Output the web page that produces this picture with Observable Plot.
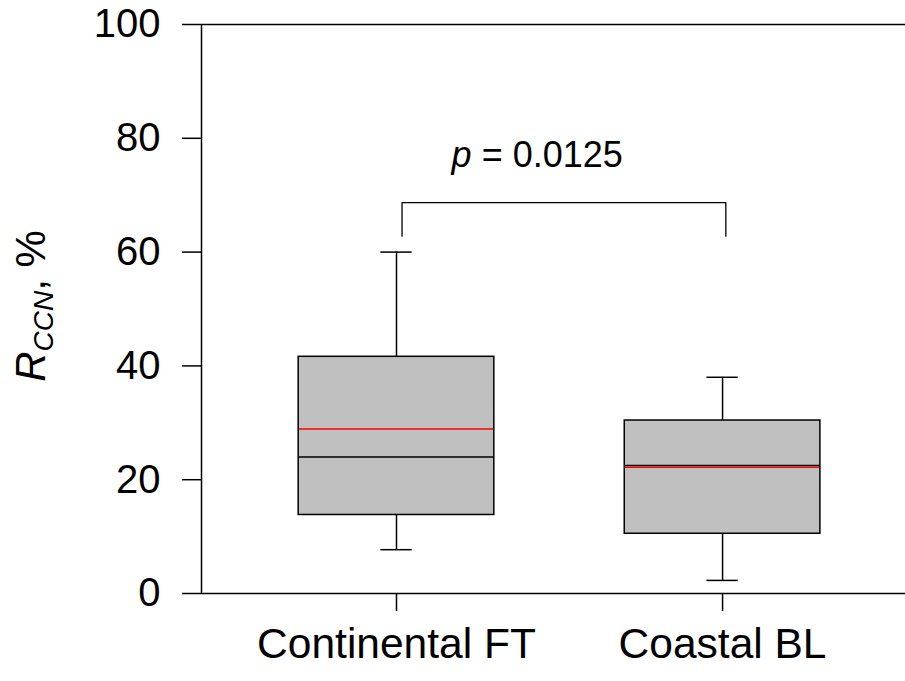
<!DOCTYPE html>
<html><head><meta charset="utf-8">
<script src="https://cdn.jsdelivr.net/npm/d3@7"></script>
<script src="https://cdn.jsdelivr.net/npm/@observablehq/plot@0.6"></script>
<style>body{margin:0;background:#fff} svg{display:block}</style>
</head><body><div id="chart"></div>
<script>
// ---- data ----
const groups = ["Continental FT", "Coastal BL"];
const lowerWhisker = [7.7, 2.3];
const q1 = [13.8, 10.5];
const median = [24.0, 22.5];
const mean = [28.9, 22.2];
const q3 = [41.6, 30.4];
const upperWhisker = [60.0, 38.0];
const yTicks = [0, 20, 40, 60, 80, 100];
const pValue = "0.0125";
const bracketX = [0.017, 1.01];
const bracketY = [62.8, 68.7];
const pTextPos = [0.433, 74.9];

const data = groups.map((g, i) => ({i, g, lo: lowerWhisker[i], q1: q1[i], med: median[i], mean: mean[i], q3: q3[i], hi: upperWhisker[i]}));
const bracket = [
  {x: bracketX[0], y: bracketY[0]}, {x: bracketX[0], y: bracketY[1]},
  {x: bracketX[1], y: bracketY[1]}, {x: bracketX[1], y: bracketY[0]}
];
const boxHalf = 0.3, capHalf = 0.048;
const font = "'Liberation Sans', Arial, Helvetica, sans-serif";
const xDomain = [-0.598, 1.561];
const sw = 1.5;

const plot = Plot.plot({
  width: 905, height: 681,
  marginLeft: 201, marginRight: 0, marginTop: 24, marginBottom: 88,
  style: {fontFamily: font, background: "white", color: "black", fontSize: "40px"},
  x: {type: "linear", domain: xDomain},
  y: {domain: [0, 100]},
  marks: [
    Plot.rect(data, {x1: d => d.i - boxHalf, x2: d => d.i + boxHalf, y1: "q1", y2: "q3", fill: "#c0c0c0"}),
    Plot.ruleX(data, {x: "i", y1: "q3", y2: "hi", stroke: "black", strokeWidth: sw}),
    Plot.ruleX(data, {x: "i", y1: "lo", y2: "q1", stroke: "black", strokeWidth: sw}),
    Plot.ruleY(data, {y: "hi", x1: d => d.i - capHalf, x2: d => d.i + capHalf, stroke: "black", strokeWidth: sw}),
    Plot.ruleY(data, {y: "lo", x1: d => d.i - capHalf, x2: d => d.i + capHalf, stroke: "black", strokeWidth: sw}),
    Plot.ruleY(data, {y: "med", x1: d => d.i - boxHalf, x2: d => d.i + boxHalf, stroke: "black", strokeWidth: sw}),
    Plot.ruleY(data, {y: "mean", x1: d => d.i - boxHalf, x2: d => d.i + boxHalf, stroke: "red", strokeWidth: sw}),
    Plot.rect(data, {x1: d => d.i - boxHalf, x2: d => d.i + boxHalf, y1: "q1", y2: "q3", fill: "none", stroke: "black", strokeWidth: sw}),
    Plot.line(bracket, {x: "x", y: "y", stroke: "black", strokeWidth: 1.3}),
    Plot.ruleX([xDomain[0]], {stroke: "black", strokeWidth: sw}),
    Plot.ruleY([0], {stroke: "black", strokeWidth: sw}),
    Plot.ruleY([100], {stroke: "black", strokeWidth: sw}),
    Plot.axisY({ticks: yTicks, tickSize: 19, tickPadding: 22, label: null, strokeWidth: sw, fontSize: 40}),
    Plot.axisX({ticks: [0, 1], tickFormat: i => groups[i], tickSize: 18, tickPadding: 16, label: null, strokeWidth: sw, fontSize: 42.5})
  ]
});
document.getElementById("chart").appendChild(plot);

const svg = d3.select(plot);
const sx = plot.scale("x"), sy = plot.scale("y");
// p-value annotation
const pt = svg.append("text")
  .attr("x", sx.apply(pTextPos[0])).attr("y", sy.apply(pTextPos[1]))
  .attr("text-anchor", "middle").attr("font-size", 36).attr("font-family", font).attr("fill", "black");
pt.append("tspan").attr("font-style", "italic").text("p");
pt.append("tspan").text(" = " + pValue);

// y-axis label
const yl = svg.append("text")
  .attr("transform", "translate(45,306) rotate(-90)")
  .attr("text-anchor", "middle").attr("font-family", font).attr("fill", "black").attr("font-size", 42);
yl.append("tspan").attr("font-style", "italic").text("R");
yl.append("tspan").attr("font-style", "italic").attr("font-size", 28).attr("dy", 8).text("CCN");
yl.append("tspan").attr("dy", -8).text(", %");
</script></body></html>
